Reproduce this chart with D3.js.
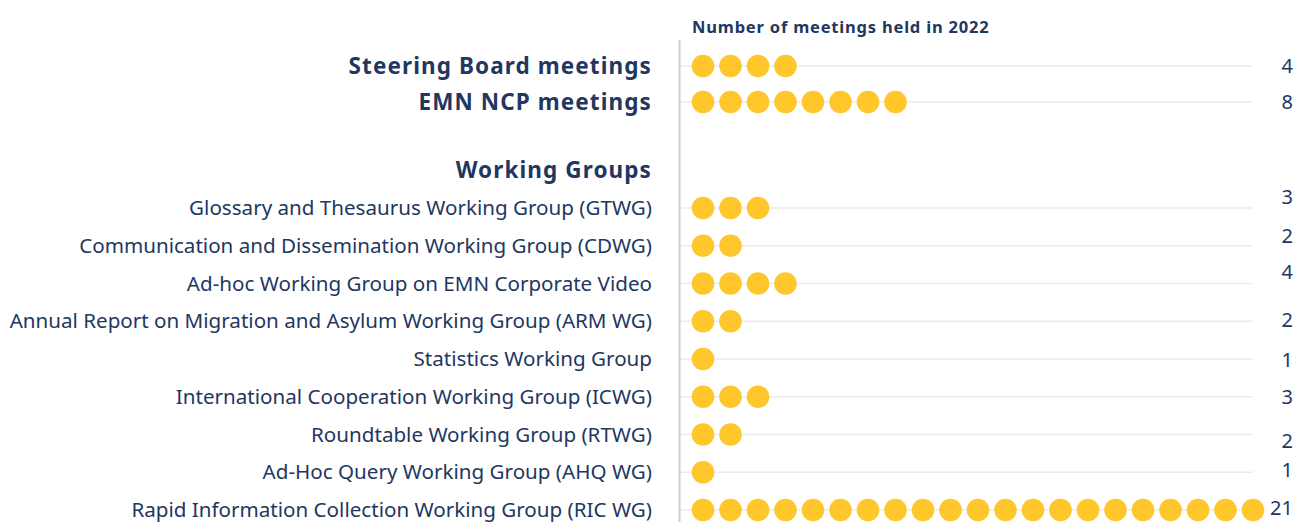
<!DOCTYPE html>
<html>
<head>
<meta charset="utf-8">
<script src="https://cdn.jsdelivr.net/npm/d3@7"></script>
<style>
  body { margin: 0; background: #fff; }
  svg { display: block; font-family: "Noto Sans", sans-serif; }
</style>
</head>
<body>
<div id="chart"></div>
<script>
// Data
const mainRows = ["Steering Board meetings", "EMN NCP meetings"];
const mainValues = [4, 8];

const groupHeader = "Working Groups";
const groupRows = [
    "Glossary and Thesaurus Working Group (GTWG)",
    "Communication and Dissemination Working Group (CDWG)",
    "Ad-hoc Working Group on EMN Corporate Video",
    "Annual Report on Migration and Asylum Working Group (ARM WG)",
    "Statistics Working Group",
    "International Cooperation Working Group (ICWG)",
    "Roundtable Working Group (RTWG)",
    "Ad-Hoc Query Working Group (AHQ WG)",
    "Rapid Information Collection Working Group (RIC WG)"
];
const groupValues = [3, 2, 4, 2, 1, 3, 2, 1, 21];

const title = "Number of meetings held in 2022";

// small vertical nudges of the count labels, as in the original
const labelNudge = [0, 0, -11, -10, -12, -1, 1, 0, 6, -2, -2];

const width = 1299, height = 522;
const navy = "#22375f";
const yellow = "#ffc72c";

const svg = d3.select("#chart").append("svg")
    .attr("width", width)
    .attr("height", height);

// Scales
const yMain = d3.scalePoint().domain(mainRows).range([66, 102]);
const yGroup = d3.scalePoint().domain(groupRows).range([208, 510]);
const x = d3.scaleLinear().domain([1, 21]).range([703, 1253]);

const rows = mainRows.map((name, i) => ({name, value: mainValues[i], y: yMain(name), main: true}))
    .concat(groupRows.map((name, i) => ({name, value: groupValues[i], y: yGroup(name), main: false})));

// Grid lines
svg.append("g")
    .selectAll("line")
    .data(rows)
    .join("line")
    .attr("x1", 680)
    .attr("x2", x(21))
    .attr("y1", d => d.y)
    .attr("y2", d => d.y)
    .attr("stroke", "#ebebeb")
    .attr("stroke-width", 1.5);

// Axis line
svg.append("line")
    .attr("x1", 679.5).attr("x2", 679.5)
    .attr("y1", 40).attr("y2", height)
    .attr("stroke", "#cfcfcf")
    .attr("stroke-width", 2);

// Title
svg.append("text")
    .attr("x", 692)
    .attr("y", 33)
    .attr("fill", navy)
    .attr("font-size", 16.5)
    .attr("font-weight", "bold")
    .attr("letter-spacing", 0.8)
    .text(title);

// Row labels
svg.append("g")
    .selectAll("text")
    .data(rows)
    .join("text")
    .attr("x", 652)
    .attr("y", d => d.y)
    .attr("dy", "0.35em")
    .attr("text-anchor", "end")
    .attr("fill", navy)
    .attr("font-size", d => d.main ? 22.5 : 20.6)
    .attr("font-weight", d => d.main ? "bold" : "normal")
    .attr("letter-spacing", d => d.main ? 1.1 : 0)
    .text(d => d.name);

// Group header
svg.append("text")
    .attr("x", 652)
    .attr("y", yGroup(groupRows[0]) - 38)
    .attr("dy", "0.35em")
    .attr("text-anchor", "end")
    .attr("fill", navy)
    .attr("font-size", 22.5)
    .attr("font-weight", "bold")
    .attr("letter-spacing", 1.1)
    .text(groupHeader);

// Dots
svg.append("g")
    .selectAll("g")
    .data(rows)
    .join("g")
    .selectAll("circle")
    .data(d => d3.range(1, d.value + 1).map(k => ({k, y: d.y})))
    .join("circle")
    .attr("cx", d => x(d.k))
    .attr("cy", d => d.y)
    .attr("r", 11.3)
    .attr("fill", yellow);

// Count labels
svg.append("g")
    .selectAll("text")
    .data(rows)
    .join("text")
    .attr("x", 1293)
    .attr("y", (d, i) => d.y + labelNudge[i])
    .attr("dy", "0.35em")
    .attr("text-anchor", "end")
    .attr("fill", navy)
    .attr("font-size", 20)
    .text(d => d.value);
</script>
</body>
</html>
